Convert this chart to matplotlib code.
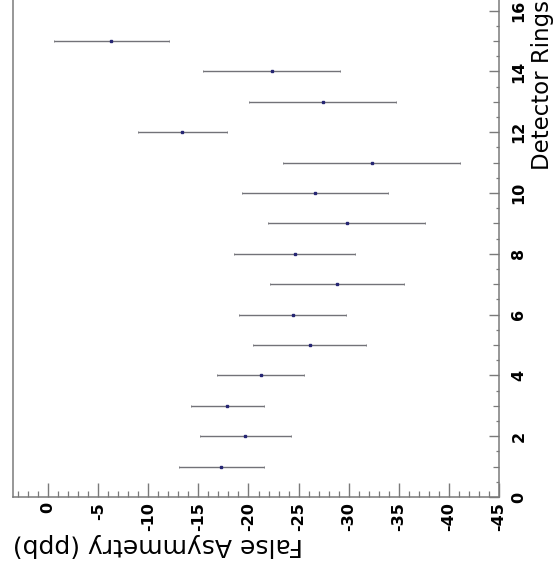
"""
False asymmetry per detector ring, drawn sideways with horizontal error bars.
"""

import numpy as np
import matplotlib.pyplot as plt
from matplotlib.ticker import MultipleLocator

# ring number, measured false asymmetry (ppb) and its error
rings = [1, 2, 3, 4, 5, 6, 7, 8, 9, 10, 11, 12, 13, 14, 15]
asym = [-17.3, -19.7, -17.9, -21.2, -26.1, -24.4, -28.8, -24.6,
        -29.8, -26.65, -32.3, -13.4, -27.4, -22.3, -6.3]
asym_err = [4.2, 4.5, 3.65, 4.35, 5.6, 5.35, 6.7, 6.05,
            7.85, 7.25, 8.85, 4.45, 7.35, 6.8, 5.75]

# tick positions and labels
asym_ticks = [0, -5, -10, -15, -20, -25, -30, -35, -40, -45]
asym_labels = ['0', '-5', '-10', '-15', '-20', '-25', '-30', '-35', '-40', '-45']
ring_ticks = [0, 2, 4, 6, 8, 10, 12, 14, 16]
ring_labels = ['0', '2', '4', '6', '8', '10', '12', '14', '16']

axis_col = '#7a7a7a'

fig = plt.figure(figsize=(5.54, 5.77), dpi=100)
ax = fig.add_axes([13 / 554, 80 / 577, 486 / 554, 497 / 577])

ax.errorbar(asym, rings, xerr=asym_err, fmt='s', ms=2.0,
            mfc='#262673', mec='#262673', ecolor='#727278',
            elinewidth=1.0, capsize=1.0, capthick=0.6)

ax.set_xlim(3.5, -45)
ax.set_ylim(0, 16.35)

# frame: bottom and right carry the scales, left is a plain line
for side in ['bottom', 'right', 'left']:
    ax.spines[side].set_color(axis_col)
    ax.spines[side].set_linewidth(1.1)
ax.spines['top'].set_visible(False)

ax.set_xticks(asym_ticks)
ax.set_xticklabels(asym_labels, rotation=90, fontsize=11.5, fontweight='bold')
ax.xaxis.set_minor_locator(MultipleLocator(1))
ax.tick_params(axis='x', which='major', direction='in', length=10,
               width=1.0, color=axis_col, pad=3.5)
ax.tick_params(axis='x', which='minor', direction='in', length=4,
               width=0.9, color=axis_col)

ax.yaxis.tick_right()
ax.set_yticks(ring_ticks)
ax.set_yticklabels(ring_labels, rotation=90, fontsize=11.5,
                   fontweight='bold', va='center')
ax.yaxis.set_minor_locator(MultipleLocator(1))
ax.tick_params(axis='y', which='major', direction='in', length=7.5,
               width=1.0, color=axis_col, pad=9, left=False)
ax.tick_params(axis='y', which='minor', direction='in', length=4.5,
               width=0.9, color=axis_col, left=False)

# extra half-ring ticks on the right edge
half = ax.secondary_yaxis('right')
half.set_yticks(np.arange(0.5, 16.5, 1.0))
half.set_yticklabels([])
half.tick_params(direction='in', length=2.5, width=0.9, color=axis_col)
half.spines['right'].set_visible(False)

ax.set_xlabel('False Asymmetry (ppb)', fontsize=18, rotation=180, loc='left')
ax.xaxis.set_label_coords(0, -0.072)
ax.xaxis.label.set_va('top')

ax.yaxis.set_label_position('right')
ax.set_ylabel('Detector Rings', fontsize=16.5, rotation=90, loc='top')
ax.yaxis.set_label_coords(1.066, 1.0)
ax.yaxis.label.set_va('top')

fig.savefig('out.png', dpi=100)
